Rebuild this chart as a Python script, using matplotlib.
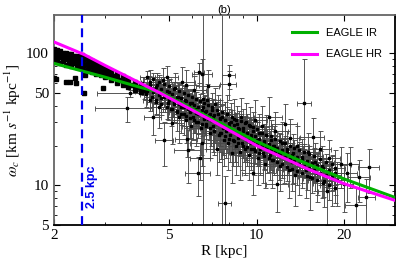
"""Rotation curve style plot: angular velocity vs radius with EAGLE models"""

import matplotlib
matplotlib.use("Agg")
import matplotlib.pyplot as plt
from matplotlib.ticker import FixedLocator, NullFormatter

plt.rcParams['font.family'] = 'serif'
plt.rcParams['font.serif'] = ['Liberation Serif', 'DejaVu Serif']
plt.rcParams['mathtext.fontset'] = 'stix'

# inner dense band (no visible error bars)
r_inner = [2.00, 2.00, 2.00, 2.02, 2.03, 2.05, 2.05, 2.07, 2.08, 2.10, 2.10, 2.10,
           2.13, 2.15, 2.15, 2.17, 2.20, 2.20, 2.20, 2.23, 2.25, 2.25, 2.28, 2.30,
           2.30, 2.30, 2.33, 2.35, 2.35, 2.38, 2.40, 2.40, 2.40, 2.43, 2.45, 2.45,
           2.48, 2.50, 2.50, 2.50, 2.55, 2.55, 2.60, 2.60, 2.60, 2.65, 2.65, 2.70,
           2.70, 2.70, 2.75, 2.75, 2.80, 2.80, 2.80, 2.85, 2.85, 2.90, 2.90, 2.90,
           2.95, 3.00, 3.00, 3.00, 3.07, 3.07, 3.15, 3.15, 3.15, 3.22, 3.30, 3.30,
           3.30, 3.38, 3.45, 3.45, 3.45, 3.52, 3.60, 3.60, 3.60, 3.70, 3.80, 3.80,
           3.80, 3.90, 4.00, 4.00, 4.00]
w_inner = [108, 97, 86, 103, 92, 106, 88, 99, 94, 104, 94, 84,
           98, 101, 87, 93, 101, 91, 82, 96, 98, 86, 92, 98,
           89, 80, 94, 96, 84, 90, 96, 87, 79, 92, 94, 82,
           88, 97, 86, 78, 90, 81, 92, 83, 75, 88, 79, 87,
           80, 72, 83, 75, 83, 76, 70, 79, 72, 80, 73, 68,
           75, 78, 71, 66, 75, 68, 74, 68, 63, 67, 70, 65,
           60, 63, 67, 62, 58, 61, 64, 60, 56, 58, 61, 57,
           53, 56, 59, 55, 51]

# inner outliers
r_out = [2.00, 2.03, 2.20, 2.27, 2.36, 2.38, 2.54, 2.57, 2.95]
w_out = [65, 63.6, 61, 61, 64.6, 59.3, 50, 68, 55]

# dense main band: two sets of radii and four rows of values with error sizes
r_dense_a = [4.2, 4.4, 4.6, 4.8, 5.0, 5.2, 5.4, 5.6, 5.8, 6.0, 6.2, 6.4, 6.6, 6.8,
             7.0, 7.3, 7.6, 7.9, 8.2, 8.5, 8.8, 9.1, 9.4, 9.7, 10.0, 10.4, 10.8,
             11.2, 11.6, 12.0, 12.5, 13.0, 13.5, 14.0, 14.6, 15.2, 15.8, 16.5,
             17.3, 18.2]
r_dense_b = [4.3, 4.5, 4.7, 4.9, 5.1, 5.3, 5.5, 5.7, 5.9, 6.1, 6.3, 6.5, 6.7, 6.9,
             7.15, 7.45, 7.75, 8.05, 8.35, 8.65, 8.95, 9.25, 9.55, 9.85, 10.2,
             10.6, 11.0, 11.4, 11.8, 12.25, 12.75, 13.25, 13.75, 14.3, 14.9, 15.5,
             16.15, 16.9, 17.75, 18.7]
w_dense_hi = [66, 63.5, 61, 59, 56.5, 54, 52, 50, 48, 46.5, 45, 43.5, 42, 40.5,
              39, 37.5, 36, 34.5, 33, 31.5, 30.5, 29.5, 28.5, 27.5, 26.5, 25, 24,
              23.5, 22.5, 21.5, 20.8, 20, 19.2, 18.5, 17.8, 17.2, 16.6, 15.8,
              15.1, 14.4]
w_dense_mh = [58, 55.5, 53.5, 51.5, 49.5, 47, 45.5, 43.5, 42, 40.5, 39, 37.5, 36.5,
              35, 34, 32.5, 31, 29.5, 28.5, 27, 26, 25, 24, 23.5, 22.5, 21.5, 20.5,
              20, 19.2, 18.5, 17.8, 17.1, 16.5, 15.9, 15.2, 14.7, 14.2, 13.6,
              13, 12.3]
w_dense_ml = [52, 50.5, 48.5, 46.5, 44.5, 43, 41, 39.5, 38, 37, 35.5, 34.5, 33, 32,
              31, 29.5, 28.5, 27, 26, 25, 24, 23.5, 22.5, 21.5, 21, 20, 19.2,
              18.4, 17.8, 17.1, 16.4, 15.8, 15.2, 14.6, 14.1, 13.6, 13.1, 12.5,
              12, 11.4]
w_dense_lo = [44.5, 43, 41.5, 39.5, 38, 36.5, 35, 33.5, 32.5, 31, 30, 29, 28, 27,
              26, 25, 23.5, 22.5, 21.5, 21, 20, 19.5, 18.7, 18.2, 17.5, 16.8, 16.1,
              15.5, 14.9, 14.4, 13.8, 13.3, 12.8, 12.3, 11.8, 11.4, 11, 10.5, 10,
              9.6]
xerr_dense = [0.25, 0.3, 0.3, 0.3, 0.35, 0.35, 0.35, 0.4, 0.4, 0.4, 0.45, 0.45,
              0.45, 0.5, 0.5, 0.5, 0.55, 0.55, 0.6, 0.6, 0.6, 0.65, 0.65, 0.7,
              0.7, 0.75, 0.75, 0.8, 0.8, 0.85, 0.9, 0.9, 0.95, 1.0, 1.0, 1.1,
              1.1, 1.2, 1.2, 1.3]
yerr_dense = [8, 8, 7.5, 7.5, 7, 7, 6.5, 6.5, 6, 6, 5.5, 5.5, 5.5, 5, 5, 5, 4.5,
              4.5, 4.5, 4, 4, 4, 4, 3.5, 3.5, 3.5, 3.5, 3, 3, 3, 3, 3, 2.8, 2.8,
              2.6, 2.6, 2.5, 2.4, 2.3, 2.2]

# scattered measured points with error bars (symmetric)
r_pts = [3.66, 3.57, 5.75,
         4.05, 4.10, 4.15, 4.25, 4.30, 4.35, 4.40, 4.45, 4.50, 4.55, 4.60, 4.65,
         4.70, 4.75, 4.80, 4.85, 4.90, 4.95,
         5.00, 5.05, 5.10, 5.15, 5.20, 5.25, 5.30, 5.35, 5.40, 5.45, 5.50, 5.55,
         5.60, 5.65, 5.70, 5.73, 5.80, 5.85, 5.90, 5.95,
         6.00, 6.05, 6.10, 6.15, 6.20, 6.28, 6.30, 6.35, 6.40, 6.45, 6.50, 6.50,
         6.55, 6.60, 6.65, 6.70, 6.75, 6.80, 6.85, 6.90, 6.95,
         7.00, 7.05, 7.10, 7.15, 7.20, 7.25, 7.30, 7.35, 7.40, 7.45, 7.50, 7.55,
         7.65, 7.70, 7.80, 7.85, 7.90, 7.95, 8.00, 8.00,
         8.05, 8.10, 8.15, 8.20, 8.25, 8.30, 8.35, 8.40, 8.50, 8.55, 8.60, 8.70,
         8.75, 8.80, 8.90, 9.00, 9.05, 9.10, 9.20, 9.25, 9.30, 9.40, 9.50, 9.55,
         9.60, 9.70, 9.75, 9.80, 9.90,
         10.0, 10.1, 10.2, 10.3, 10.4, 10.5, 10.6, 10.7, 10.8, 10.9, 11.0, 11.1,
         11.2, 11.3, 11.5, 11.6, 11.8, 11.9, 12.0, 12.2, 12.4, 12.5, 12.7, 12.9,
         13.0, 13.2, 13.4, 13.6, 13.8,
         14.0, 14.3, 14.8, 15.0, 15.3, 15.6, 15.9, 16.2, 16.5, 16.8, 17.1, 17.5,
         17.8, 18.2, 18.6, 19.0, 19.5, 20.0,
         20.5, 21.0, 22.0, 22.6, 23.9, 24.4]
w_pts = [50, 38.4, 22.4,
         57, 52, 49, 55, 61, 47, 33, 53, 44, 58, 39, 50,
         46, 63, 22, 48, 66, 42,
         51, 38, 29.5, 45, 41, 55, 36, 47, 33, 43, 39, 61,
         35, 44, 31, 58, 18.4, 40, 36, 28,
         42, 33, 52.5, 38, 30, 12.3, 35, 71.8, 16, 27, 70, 21,
         39, 32, 36, 29, 44, 57, 34, 25, 31,
         37, 28, 33, 26, 41, 30, 19, 35, 24, 29, 32, 24.8,
         27, 22, 31, 26, 35, 21, 68, 59,
         28, 24, 30, 17.5, 26, 22, 32, 25, 20, 29, 23, 26.6,
         18, 33, 21, 27, 24, 19, 30, 22, 25, 17, 28, 21,
         23, 12.5, 26, 19, 31,
         22, 16, 25, 19, 28, 17.5, 21, 14.5, 24, 19.5, 33, 17,
         22, 15.5, 20, 26, 10.3, 18, 14, 21, 16.5, 29, 19, 13,
         23, 15, 17.5, 12, 20,
         14.5, 16.5, 13, 18, 11.5, 23.2, 15, 12.5, 19, 14, 10.8, 9,
         16, 12, 13.5, 11, 14.5, 10.3,
         12.5, 14.5, 7.1, 11.5, 8.1, 13.7]
xerr_pts = [0.85, 0.8, 0.5,
            0.25, 0.3, 0.2, 0.35, 0.3, 0.25, 0.3, 0.4, 0.3, 0.35, 0.3, 0.25,
            0.4, 0.3, 0.35, 0.3, 0.45, 0.3,
            0.4, 0.35, 0.5, 0.3, 0.4, 0.5, 0.3, 0.4, 0.45, 0.3, 0.5, 0.6,
            0.4, 0.35, 0.5, 0.6, 0.6, 0.4, 0.5, 0.4,
            0.5, 0.45, 0.6, 0.5, 0.4, 0.6, 0.5, 0.25, 0.5, 0.6, 0.5, 0.6,
            0.5, 0.4, 0.6, 0.5, 0.7, 0.6, 0.5, 0.6, 0.5,
            0.6, 0.5, 0.7, 0.5, 0.6, 0.5, 0.6, 0.7, 0.5, 0.6, 0.5, 0.7,
            0.6, 0.5, 0.6, 0.7, 0.5, 0.6, 0.4, 0.5,
            0.7, 0.6, 0.8, 0.6, 0.7, 0.5, 0.8, 0.6, 0.7, 0.6, 0.8, 0.6,
            0.7, 0.9, 0.6, 0.8, 0.6, 0.7, 0.8, 0.7, 0.6, 0.8, 0.9, 0.7,
            0.6, 0.8, 0.9, 0.7, 1.0,
            0.8, 0.9, 0.8, 1.0, 0.9, 0.8, 1.1, 0.9, 1.0, 0.8, 1.2, 1.0,
            0.9, 1.1, 1.0, 1.2, 1.0, 1.1, 0.9, 1.2, 1.0, 1.3, 1.1, 1.2,
            1.0, 1.3, 1.1, 1.2, 1.4,
            1.2, 1.3, 1.2, 1.4, 1.3, 1.5, 1.2, 1.4, 1.5, 1.3, 1.4, 1.2,
            1.6, 1.4, 1.5, 1.5, 1.6, 1.5,
            1.7, 1.6, 1.8, 2.0, 1.6, 2.0]
yerr_pts = [3, 8, 6,
            9, 7, 10, 12, 14, 8, 9, 11, 10, 13, 12, 9,
            10, 15, 8, 12, 14, 11,
            13, 10, 9, 12, 11, 16, 10, 13, 12, 10, 14, 18,
            11, 13, 10, 17, 8, 12, 13, 9,
            12, 11, 15, 13, 10, 4, 12, 12, 5, 10, 20, 7,
            14, 11, 12, 10, 15, 18, 12, 9, 11,
            13, 10, 12, 9, 14, 11, 7, 13, 9, 11, 12, 9,
            10, 8, 12, 10, 13, 8, 14, 15,
            10, 9, 12, 7, 9, 8, 13, 10, 8, 11, 9, 10,
            7, 13, 8, 11, 9, 7, 12, 8, 10, 6, 11, 8,
            9, 4, 10, 7, 13,
            8, 6, 10, 7, 12, 7, 8, 5, 10, 7, 14, 6,
            9, 6, 8, 10, 4, 7, 5, 9, 6, 12, 7, 5,
            9, 6, 7, 5, 8,
            6, 6, 5, 7, 5, 9, 6, 5, 7, 6, 4, 4,
            6, 5, 5, 4, 5, 4,
            5, 5, 2.5, 4, 3, 5]

# points with asymmetric / very large error bars
r_big = [6.53, 7.59, 7.76, 14.6]
w_big = [45, 33, 7.3, 41.8]
yerr_lo_big = [44.5, 32.7, 7.0, 23]
yerr_hi_big = [400, 400, 4.4, 48]
xerr_big = [0.3, 0.3, 0.4, 0.8]

# model curves
r_ir = [2.0, 2.5, 3.0, 4.0, 4.65, 7.0, 10.0, 15.0, 20.0, 30.0]
w_ir = [84, 73.5, 66, 55, 50.7, 32, 21.5, 14.5, 11.2, 8.1]
r_hr = [2.0, 2.54, 3.0, 4.0, 4.65, 7.0, 10.0, 15.0, 20.0, 30.0]
w_hr = [122, 98, 81, 59, 50, 31, 20, 13.3, 10.3, 7.7]

fig = plt.figure(figsize=(3.99, 2.68), dpi=100)
ax = fig.add_axes([0.135, 0.16, 0.855, 0.784])

ebar_kw = dict(fmt='s', color='black', ms=1.9, ecolor='#4a4a4a',
               elinewidth=0.65, capsize=1.8, capthick=0.65, zorder=2)
ax.errorbar(r_pts, w_pts, xerr=xerr_pts, yerr=yerr_pts, **ebar_kw)
ax.errorbar(r_big, w_big, xerr=xerr_big, yerr=[yerr_lo_big, yerr_hi_big], **ebar_kw)
ax.errorbar(r_dense_a, w_dense_hi, xerr=xerr_dense, yerr=yerr_dense, **ebar_kw)
ax.errorbar(r_dense_b, w_dense_mh, xerr=xerr_dense, yerr=yerr_dense, **ebar_kw)
ax.errorbar(r_dense_a, w_dense_ml, xerr=xerr_dense, yerr=yerr_dense, **ebar_kw)
ax.errorbar(r_dense_b, w_dense_lo, xerr=xerr_dense, yerr=yerr_dense, **ebar_kw)
ax.plot(r_inner, w_inner, 's', color='black', ms=2.4, zorder=3)
ax.plot(r_out, w_out, 's', color='black', ms=2.2, zorder=3)

ax.plot(r_ir, w_ir, color='#00b000', lw=2.2, label='EAGLE IR', zorder=4)
ax.plot(r_hr, w_hr, color='#ff00ff', lw=2.2, label='EAGLE HR', zorder=4)

ax.axvline(2.5, color='#0000ee', ls='--', lw=1.6, dashes=(4, 2.5), zorder=5)
ax.text(2.70, 9.7, '2.5 kpc', rotation=90, color='#0000ee', fontsize=9,
        fontweight='bold', family='Liberation Sans', ha='center', va='center')

ax.set_xscale('log')
ax.set_yscale('log')
ax.set_xlim(2, 30)
ax.set_ylim(5, 195)

ax.xaxis.set_major_locator(FixedLocator([2, 5, 10, 20]))
ax.xaxis.set_minor_locator(FixedLocator([3, 4, 6, 7, 8, 9, 30]))
ax.set_xticklabels(['2', '5', '10', '20'])
ax.xaxis.set_minor_formatter(NullFormatter())
ax.yaxis.set_major_locator(FixedLocator([5, 10, 50, 100]))
ax.yaxis.set_minor_locator(FixedLocator([6, 7, 8, 9, 20, 30, 40, 60, 70, 80, 90]))
ax.set_yticklabels(['5', '10', '50', '100'])
ax.yaxis.set_minor_formatter(NullFormatter())

ax.tick_params(which='both', direction='in', top=True, right=True, labelsize=11)
ax.tick_params(which='major', length=4, width=0.8)
ax.tick_params(which='minor', length=2.5, width=0.6)
ax.tick_params(axis='x', pad=3)

for side in ['left', 'top']:
    ax.spines[side].set_color('#666666')
for side in ['bottom', 'right']:
    ax.spines[side].set_color('black')
for side in ax.spines:
    ax.spines[side].set_linewidth(1.3)

ax.set_xlabel('R [kpc]', fontsize=11, labelpad=2)
ax.set_ylabel(r'$\omega_c$ [km $s^{-1}$ kpc$^{-1}$]', fontsize=11, labelpad=2)
ax.set_title('(b)', fontsize=8, family='Liberation Sans', pad=1)

ax.legend(loc='upper right', frameon=False,
          prop={'family': 'Liberation Sans', 'size': 8},
          handlelength=2.2, labelspacing=1.0, borderaxespad=0.8)

fig.savefig('out.png', dpi=100)
